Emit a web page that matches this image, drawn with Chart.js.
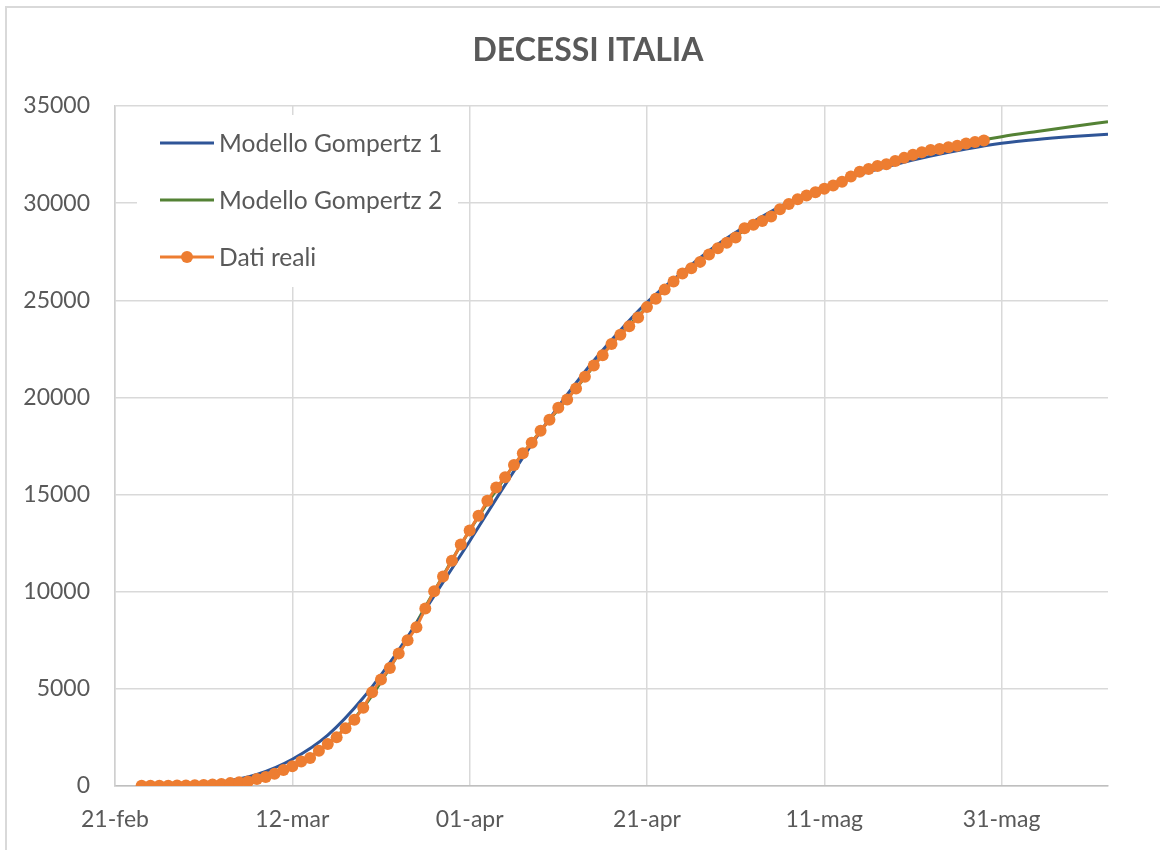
<!DOCTYPE html>
<html>
<head>
<meta charset="utf-8">
<script src="https://cdn.jsdelivr.net/npm/chart.js@4.4.1/dist/chart.umd.min.js"></script>
<style>
  html, body { margin: 0; padding: 0; background: #fff; overflow: hidden; }
  #wrap { position: relative; width: 1160px; height: 850px; }
  #frame { position: absolute; left: 5px; top: 6px; width: 1200px; height: 900px; border: 2px solid #d9d9d9; }
  #chart { position: absolute; left: 0; top: 0; }
</style>
</head>
<body>
<div id="wrap">
  <div id="frame"></div>
  <canvas id="chart" width="1160" height="850"></canvas>
</div>
<script>
// asse x: giorni dal 21-feb
const tickLabels = ['21-feb', '12-mar', '01-apr', '21-apr', '11-mag', '31-mag'];
const tickStep = 20;
const lastDay = 112;

// dati reali: decessi cumulati dal 24-feb (giorno 3) al 29-mag
const firstRealDay = 3;
const datiReali = [
  7, 10, 12, 17, 21, 29, 34, 52, 79, 107, 148, 197, 233, 366, 463, 631, 827,
  1016, 1266, 1441, 1809, 2158, 2503, 2978, 3405, 4032, 4825, 5476, 6077, 6820,
  7503, 8165, 9134, 10023, 10779, 11591, 12428, 13155, 13915, 14681, 15362,
  15887, 16523, 17127, 17669, 18279, 18849, 19468, 19899, 20465, 21067, 21645,
  22170, 22745, 23227, 23660, 24114, 24648, 25085, 25549, 25969, 26384, 26644,
  26977, 27359, 27682, 27967, 28236, 28710, 28884, 29079, 29315, 29684, 29958,
  30201, 30395, 30560, 30739, 30911, 31106, 31368, 31610, 31763, 31908, 32007,
  32169, 32330, 32486, 32616, 32735, 32785, 32877, 32955, 33072, 33142, 33229
];

// curve dei modelli
const modelDays = [3, 8, 12, 16, 20, 24, 28, 32, 36, 40, 44, 48, 52, 56, 60,
  64, 68, 72, 76, 80, 84, 88, 92, 96, 100, 104, 108, 112];
const gompertz1 = [5, 55, 210, 600, 1380, 2620, 4540, 7000, 9780, 12600, 15500,
  18250, 20750, 22950, 24900, 26450, 27880, 29050, 30060, 30850, 31480, 31990,
  32420, 32780, 33080, 33280, 33430, 33550];
const gompertz2 = [7, 29, 107, 366, 1016, 2158, 4032, 6820, 10023, 13155, 15887,
  18279, 20465, 22745, 24648, 26384, 27682, 28884, 29958, 30739, 31610, 32169,
  32735, 33110, 33420, 33690, 33950, 34190];

const textColor = '#595959';
Chart.defaults.font.family = 'Lato, "Open Sans", sans-serif';
Chart.defaults.color = textColor;

// legenda dentro l'area del grafico, con sfondo bianco
const insideLegend = {
  id: 'insideLegend',
  afterLayout(chart) {
    // titolo centrato sulla pagina, non sull'area del grafico
    chart.titleBlock.left += 34;
    chart.titleBlock.right += 34;
  },
  beforeDatasetsDraw(chart) {
    const ctx = chart.ctx;
    const area = chart.chartArea;
    const left = area.left + 22;
    const top = area.top + 9;
    ctx.save();
    ctx.fillStyle = '#ffffff';
    ctx.fillRect(left, top, 321, 172);
    ctx.font = '24.6px Lato, "Open Sans", sans-serif';
    ctx.textBaseline = 'middle';
    chart.data.datasets.forEach(function (ds, i) {
      const y = top + 28 + i * 57;
      ctx.strokeStyle = ds.borderColor;
      ctx.lineWidth = ds.borderWidth;
      ctx.beginPath();
      ctx.moveTo(left + 23, y);
      ctx.lineTo(left + 77, y);
      ctx.stroke();
      if (ds.pointRadius > 0) {
        ctx.fillStyle = ds.pointBackgroundColor;
        ctx.beginPath();
        ctx.arc(left + 50, y, ds.pointRadius, 0, Math.PI * 2);
        ctx.fill();
      }
      ctx.fillStyle = textColor;
      ctx.fillText(ds.label, left + 82, y + 1);
    });
    ctx.restore();
  }
};

const ctx = document.getElementById('chart').getContext('2d');
const chart = new Chart(ctx, {
  type: 'line',
  data: {
    datasets: [{
      label: 'Modello Gompertz 1',
      data: modelDays.map((d, i) => ({ x: d, y: gompertz1[i] })),
      borderColor: '#2f5597',
      borderWidth: 3,
      pointRadius: 0,
      cubicInterpolationMode: 'monotone',
      order: 1
    }, {
      label: 'Modello Gompertz 2',
      data: modelDays.map((d, i) => ({ x: d, y: gompertz2[i] })),
      borderColor: '#548235',
      borderWidth: 3,
      pointRadius: 0,
      cubicInterpolationMode: 'monotone',
      order: 2
    }, {
      label: 'Dati reali',
      data: datiReali.map((v, i) => ({ x: firstRealDay + i, y: v })),
      borderColor: '#ed7d31',
      borderWidth: 3,
      pointRadius: 6,
      pointHoverRadius: 6,
      pointBackgroundColor: '#ed7d31',
      pointBorderWidth: 0,
      tension: 0,
      order: 0
    }]
  },
  options: {
    responsive: false,
    devicePixelRatio: 1,
    animation: false,
    layout: { padding: { left: 0, right: 52, top: 31, bottom: 0 } },
    plugins: {
      legend: { display: false },
      tooltip: { enabled: false },
      title: {
        display: true,
        text: 'DECESSI ITALIA',
        color: textColor,
        font: { size: 32, weight: 'bold' },
        padding: { top: 0, bottom: 36.6 }
      }
    },
    scales: {
      x: {
        type: 'linear',
        min: 0,
        max: lastDay,
        grid: {
          drawTicks: false,
          lineWidth: 1.5,
          color: c => (c.tick && c.tick.value % tickStep === 0) ? '#d9d9d9' : 'rgba(0,0,0,0)'
        },
        border: { color: '#bfbfbf', width: 1.5 },
        ticks: {
          stepSize: tickStep,
          padding: 20,
          autoSkip: false,
          maxRotation: 0,
          color: textColor,
          font: { size: 23 },
          callback: v => (v % tickStep === 0) ? tickLabels[v / tickStep] : ''
        },
        afterFit: s => { s.height = 64; }
      },
      y: {
        min: 0,
        max: 35000,
        grid: { drawTicks: false, lineWidth: 1.5, color: '#d9d9d9' },
        border: { color: '#cfcfcf', width: 1.5 },
        ticks: {
          stepSize: 5000,
          padding: 25,
          color: textColor,
          font: { size: 23 },
          callback: v => String(v)
        },
        afterFit: s => { s.width = 115; }
      }
    }
  },
  plugins: [insideLegend]
});
</script>
</body>
</html>
